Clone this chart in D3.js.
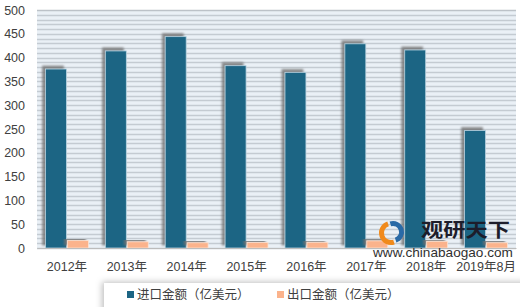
<!DOCTYPE html>
<html>
<head>
<meta charset="utf-8">
<script src="https://cdn.jsdelivr.net/npm/d3@7"></script>
<style>
  body { margin: 0; background: #fff; }
  text { font-family: "Liberation Sans", "Noto Sans CJK SC", sans-serif; }
</style>
</head>
<body>
<div id="container"></div>
<script>
const width = 520;
const height = 307;

// data
const years = ["2012年", "2013年", "2014年", "2015年", "2016年", "2017年", "2018年", "2019年8月"];
const seriesNames = ["进口金额（亿美元）", "出口金额（亿美元）"];
const importValues = [376, 414, 444, 383, 369, 429, 416, 247];
const exportValues = [15.5, 13, 11, 11.5, 12, 15, 14, 11];
const yTicks = [0, 50, 100, 150, 200, 250, 300, 350, 400, 450, 500];
const colours = ["#1c6584", "#fbb38c"];

const plot = { left: 37, right: 516, top: 10, bottom: 248 };

const svg = d3
  .select("#container")
  .append("svg")
  .attr("width", width)
  .attr("height", height);

// shadows
const defs = svg.append("defs");
defs
  .append("filter")
  .attr("id", "barShadow")
  .attr("x", "-40%")
  .attr("y", "-20%")
  .attr("width", "160%")
  .attr("height", "140%")
  .append("feDropShadow")
  .attr("dx", -3)
  .attr("dy", -3)
  .attr("stdDeviation", 1.2)
  .attr("flood-color", "#707070")
  .attr("flood-opacity", 0.8);
defs
  .append("filter")
  .attr("id", "boxShadow")
  .attr("x", "-10%")
  .attr("y", "-50%")
  .attr("width", "120%")
  .attr("height", "200%")
  .append("feDropShadow")
  .attr("dx", -2)
  .attr("dy", -1)
  .attr("stdDeviation", 3)
  .attr("flood-color", "#000")
  .attr("flood-opacity", 0.25);

// scales
const x0 = d3.scaleBand().domain(years).range([plot.left, plot.right]);
const x1 = d3
  .scaleBand()
  .domain(seriesNames)
  .range([0, x0.bandwidth()])
  .paddingInner(0.045)
  .paddingOuter(0.386);
const y = d3.scaleLinear().domain([0, 500]).range([plot.bottom, plot.top]);

// striped plot background
svg
  .append("rect")
  .attr("x", plot.left)
  .attr("y", plot.top)
  .attr("width", plot.right - plot.left)
  .attr("height", plot.bottom - plot.top)
  .attr("fill", "#eaf0f6");

svg
  .append("g")
  .selectAll("line")
  .data(d3.range(0, 501, 10))
  .join("line")
  .attr("x1", plot.left)
  .attr("x2", plot.right)
  .attr("y1", (d) => Math.round(y(d)) + 0.5)
  .attr("y2", (d) => Math.round(y(d)) + 0.5)
  .attr("stroke", (d) => (d === 500 ? "#bcc2c8" : "#c4cbd2"))
  .attr("stroke-width", 1.4);

// y axis labels
const yAxis = d3.axisLeft(y).tickValues(yTicks).tickSize(0).tickPadding(12);
const gy = svg.append("g").attr("transform", `translate(${plot.left},0)`).call(yAxis);
gy.select(".domain").remove();
gy.selectAll("text")
  .attr("font-size", 12.5)
  .attr("fill", "#404040")
  .style("font-family", "Liberation Sans, sans-serif");

// bars
const table = years.map((yr, i) => ({
  year: yr,
  values: [
    { name: seriesNames[0], value: importValues[i] },
    { name: seriesNames[1], value: exportValues[i] },
  ],
}));

svg
  .append("g")
  .selectAll("g")
  .data(table)
  .join("g")
  .attr("transform", (d) => `translate(${x0(d.year)},0)`)
  .selectAll("rect")
  .data((d) => d.values)
  .join("rect")
  .attr("x", (d) => x1(d.name))
  .attr("y", (d) => y(d.value))
  .attr("width", x1.bandwidth())
  .attr("height", (d) => y(0) - y(d.value))
  .attr("fill", (d, i) => colours[i])
  .attr("stroke", (d, i) => (i === 0 ? "#b9d3e0" : "#fde3d3"))
  .attr("stroke-width", 0.8)
  .attr("filter", "url(#barShadow)");

// x axis
const xAxis = d3.axisBottom(x0).tickSize(0).tickPadding(14);
const gx = svg.append("g").attr("transform", `translate(0,${plot.bottom})`).call(xAxis);
gx.select(".domain").attr("stroke", "#bcbcbc").attr("stroke-width", 1);
gx.selectAll("text")
  .attr("font-size", 12.5)
  .attr("fill", "#404040")
  .style("font-family", "Liberation Sans, Noto Sans CJK SC, sans-serif");

// watermark
const wm = svg.append("g");
const arc = d3.arc();
wm.append("path")
  .attr("transform", "translate(391,233)")
  .attr("d", arc({ innerRadius: 7, outerRadius: 12, startAngle: Math.PI * 0.9, endAngle: Math.PI * 1.9 }))
  .attr("fill", "#f08a1c");
wm.append("path")
  .attr("transform", "translate(393,232)")
  .attr("d", arc({ innerRadius: 6, outerRadius: 11, startAngle: -Math.PI * 0.1, endAngle: Math.PI * 0.9 }))
  .attr("fill", "#2a6aa6");

// stretch a text horizontally to a given width
function fitText(sel, x, targetW) {
  const w = sel.node().getComputedTextLength();
  const k = targetW / w;
  sel.attr("x", 0).attr("transform", `translate(${x},0) scale(${k},1)`);
}

const brand = wm
  .append("text")
  .attr("y", 237)
  .attr("font-size", 19)
  .attr("font-weight", "bold")
  .attr("fill", "#1d1d2b")
  .style("font-family", "Noto Sans CJK SC, sans-serif")
  .text("观研天下");
fitText(brand, 421, 89);

const site = wm
  .append("text")
  .attr("y", 257)
  .attr("font-size", 13)
  .attr("fill", "#303030")
  .text("www.chinabaogao.com");
fitText(site, 373, 140);

// legend
const legend = svg.append("g");
legend
  .append("rect")
  .attr("x", 104)
  .attr("y", 283)
  .attr("width", 430)
  .attr("height", 40)
  .attr("fill", "#fff")
  .attr("filter", "url(#boxShadow)");

const legendX = [127, 277];
const items = legend
  .selectAll("g.item")
  .data(seriesNames)
  .join("g")
  .attr("class", "item")
  .attr("transform", (d, i) => `translate(${legendX[i]},0)`);
items
  .append("rect")
  .attr("x", 0)
  .attr("y", 291)
  .attr("width", 7)
  .attr("height", 7)
  .attr("fill", (d, i) => colours[i]);
items
  .append("text")
  .attr("x", 10)
  .attr("y", 299)
  .attr("font-size", 12.5)
  .attr("fill", "#404040")
  .style("font-family", "Noto Sans CJK SC, sans-serif")
  .text((d) => d);
</script>
</body>
</html>
